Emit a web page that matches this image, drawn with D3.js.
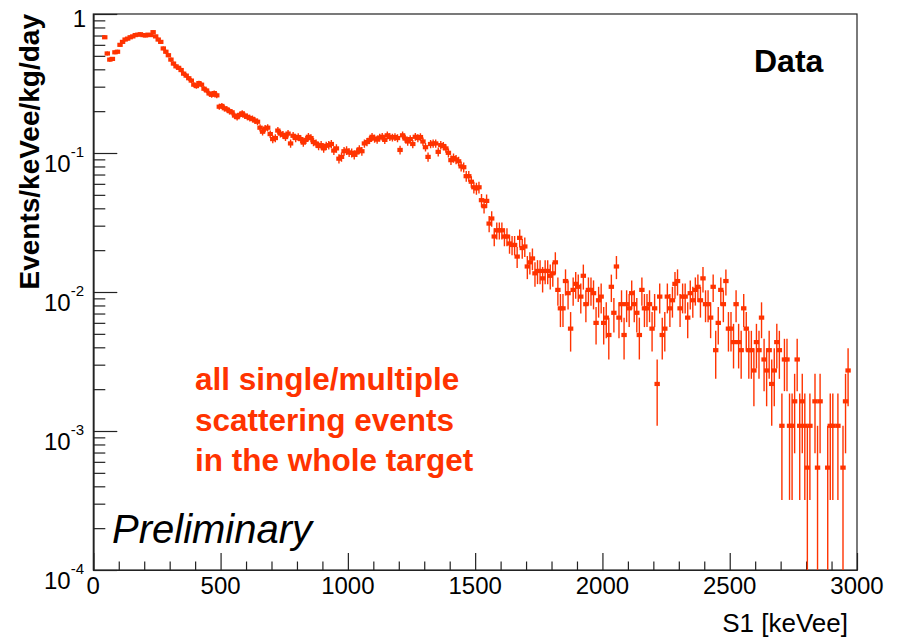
<!DOCTYPE html>
<html>
<head>
<meta charset="utf-8">
<script src="https://cdn.jsdelivr.net/npm/d3@7"></script>
<style>
  html, body { margin: 0; padding: 0; background: #fff; }
  svg { display: block; font-family: "Liberation Sans", Arial, Helvetica, sans-serif; }
</style>
</head>
<body>
<svg id="chart" width="901" height="637"></svg>
<script>
// Histogram of S1 energy: 10 keVee bins starting at 40 keVee.
const binStart = 40;
const binWidth = 10;
// One event in a bin corresponds to this rate (events/keVee/kg/day).
const rateUnit = 5.45e-4;

// Event counts per bin (40-50, 50-60, ... 2990-3000 keVee).
const counts = [
  1248, 954, 862, 872, 973, 982, 1101, 1156, 1202, 1220,          // 40-130
  1248, 1266, 1294, 1303, 1312, 1294, 1285, 1303, 1294, 1358,     // 140-230
  1266, 1202, 1156, 1037, 982, 927, 862, 807, 771, 752,           // 240-330
  725, 683, 661, 633, 609, 569, 556, 584, 569, 532,               // 340-430
  517, 492, 481, 495, 477, 395, 400, 385, 378, 367,               // 440-530
  360, 341, 332, 345, 354, 341, 334, 327, 323, 314,               // 540-630
  308, 279, 261, 275, 279, 251, 231, 235, 266, 253,               // 640-730
  248, 239, 253, 215, 244, 235, 239, 231, 218, 228,               // 740-830
  240, 235, 220, 215, 206, 209, 198, 207, 209, 213,               // 840-930
  191, 198, 167, 172, 189, 191, 185, 184, 178, 185,               // 940-1030
  195, 189, 215, 220, 228, 240, 233, 229, 237, 240,               // 1040-1130
  228, 246, 239, 237, 239, 235, 193, 246, 233, 222,               // 1140-1230
  231, 213, 240, 235, 239, 222, 202, 172, 213, 215,               // 1240-1330
  215, 187, 209, 206, 198, 184, 163, 169, 165, 160,               // 1340-1430
  147, 145, 125, 125, 114, 104, 102, 104, 84, 76,                 // 1440-1530
  83, 57, 62, 46, 51, 51, 51, 46, 46, 41,                         // 1540-1630
  40, 40, 33, 45, 38, 39, 28, 30, 32, 25,                         // 1640-1730
  26, 26, 23, 26, 26, 24, 25, 30, 19, 14,                         // 1740-1830
  14, 22, 18, 10, 19, 21, 20, 17, 24, 15,                         // 1840-1930
  19, 19, 18, 11, 16, 17, 11, 12, 9, 20,                          // 1940-2030
  13, 28, 12, 15, 9, 15, 14, 18, 15, 13,                          // 2040-2130
  9, 19, 14, 14, 15, 10, 14, 4, 17, 9,                            // 2140-2230
  10, 17, 14, 16, 21, 22, 14, 17, 17, 12,                         // 2240-2330
  18, 16, 19, 20, 16, 23, 15, 15, 12, 20,                         // 2340-2430
  7, 11, 19, 15, 22, 10, 10, 8, 15, 8,                            // 2440-2530
  7, 14, 10, 7, 7, 5, 8, 7, 12, 6,                                // 2540-2630
  5, 7, 4, 5, 8, 7, 2, 6, 6, 2,                                   // 2640-2730
  2, 3, 6, 2, 3, 2, 1, 2, 0, 3,                                   // 2740-2830
  1, 3, 0, 0, 1, 2, 2, 0, 2, 0,                                   // 2840-2930
  1, 3, 5, 0, 0, 0                                                // 2940-2990
];

const xMajorTicks = [0, 500, 1000, 1500, 2000, 2500, 3000];
const yDecades = [1e-4, 1e-3, 1e-2, 1e-1, 1];
const yDecadeLabels = [["10", "-4"], ["10", "-3"], ["10", "-2"], ["10", "-1"], ["1", ""]];

const markColor = "#ff3300";

const svg = d3.select("#chart");
const frame = { left: 93.3, right: 857, top: 14, bottom: 570 };

const x = d3.scaleLinear().domain([0, 3000]).range([frame.left, frame.right]);
const y = d3.scaleLog().domain([1e-4, 1]).range([frame.bottom, frame.top]);

// Frame box
svg.append("rect")
  .attr("x", frame.left).attr("y", frame.top)
  .attr("width", frame.right - frame.left).attr("height", frame.bottom - frame.top)
  .attr("fill", "none").attr("stroke", "#222").attr("stroke-width", 1.2);

// Minor ticks
const xMinor = d3.range(0, 3001, 100).filter(v => v % 500 !== 0);
const yMinor = [];
for (let e = -4; e < 0; e++) for (let m = 2; m <= 9; m++) yMinor.push(m * Math.pow(10, e));

function styleAxis(g) {
  g.selectAll("path.domain").attr("stroke", "#222").attr("stroke-width", 1.2);
  g.selectAll(".tick line").attr("stroke", "#222").attr("stroke-width", 1.2);
  g.selectAll(".tick text").remove();
}

svg.append("g").attr("transform", `translate(0,${frame.bottom})`)
  .call(d3.axisBottom(x).tickValues(xMinor).tickSizeInner(-8.5).tickSizeOuter(0).tickFormat(""))
  .call(styleAxis);
svg.append("g").attr("transform", `translate(0,${frame.bottom})`)
  .call(d3.axisBottom(x).tickValues(xMajorTicks).tickSizeInner(-17).tickSizeOuter(0))
  .call(styleAxis);
svg.append("g").attr("transform", `translate(${frame.left},0)`)
  .call(d3.axisLeft(y).tickValues(yMinor).tickSizeInner(-12).tickSizeOuter(0).tickFormat(""))
  .call(styleAxis);
svg.append("g").attr("transform", `translate(${frame.left},0)`)
  .call(d3.axisLeft(y).tickValues(yDecades).tickSizeInner(-24).tickSizeOuter(0))
  .call(styleAxis);

// X tick labels
svg.append("g").selectAll("text").data(xMajorTicks).join("text")
  .attr("x", d => x(d)).attr("y", frame.bottom + 24)
  .attr("text-anchor", "middle").attr("font-size", 24).attr("fill", "#000")
  .text(d => d);

// Y tick labels (powers of ten)
const yl = svg.append("g").selectAll("text").data(yDecades).join("text")
  .attr("text-anchor", "end").attr("font-size", 24).attr("fill", "#000")
  .attr("x", (d, i) => yDecadeLabels[i][1] ? 84 : 86)
  .attr("y", (d, i) => y(d) + (yDecadeLabels[i][1] ? 19 : 13));
yl.append("tspan").text((d, i) => yDecadeLabels[i][0]);
yl.append("tspan").attr("font-size", 15).attr("dy", -15)
  .text((d, i) => yDecadeLabels[i][1]);

// Axis titles
svg.append("text")
  .attr("transform", `translate(39,${frame.top}) rotate(-90)`)
  .attr("text-anchor", "end").attr("font-size", 28).attr("font-weight", "bold")
  .text("Events/keVee/kg/day");
svg.append("text")
  .attr("x", 848).attr("y", 632).attr("text-anchor", "end").attr("font-size", 26)
  .text("S1 [keVee]");

// Data points with statistical error bars
const clip = svg.append("defs").append("clipPath").attr("id", "plotClip");
clip.append("rect").attr("x", frame.left).attr("y", frame.top)
  .attr("width", frame.right - frame.left).attr("height", frame.bottom - frame.top);

const points = counts.map((n, i) => ({
  s1: binStart + binWidth * (i + 0.5),
  n: n,
  rate: n * rateUnit,
  err: Math.sqrt(n) * rateUnit
})).filter(d => d.n > 0);

const dataG = svg.append("g").attr("clip-path", "url(#plotClip)");
dataG.selectAll("line.err").data(points).join("line").attr("class", "err")
  .attr("x1", d => x(d.s1)).attr("x2", d => x(d.s1))
  .attr("y1", d => y(d.rate + d.err))
  .attr("y2", d => (d.rate - d.err) > 1e-5 ? y(d.rate - d.err) : frame.bottom + 5)
  .attr("stroke", markColor).attr("stroke-width", 1.4);
dataG.selectAll("rect.mk").data(points).join("rect").attr("class", "mk")
  .attr("x", d => x(d.s1) - 2.7).attr("y", d => y(d.rate) - 2.1)
  .attr("width", 5.4).attr("height", 4.2)
  .attr("fill", markColor);

// Annotations
svg.append("text").attr("x", 754).attr("y", 72)
  .attr("font-size", 32).attr("font-weight", "bold").text("Data");

const note = ["all single/multiple", "scattering events", "in the whole target"];
svg.append("g").selectAll("text").data(note).join("text")
  .attr("x", 195).attr("y", (d, i) => 390 + i * 40.5)
  .attr("font-size", 31.5).attr("font-weight", "bold").attr("fill", markColor)
  .text(d => d);

svg.append("text").attr("x", 112).attr("y", 543)
  .attr("font-size", 40).attr("font-style", "italic").text("Preliminary");
</script>
</body>
</html>
